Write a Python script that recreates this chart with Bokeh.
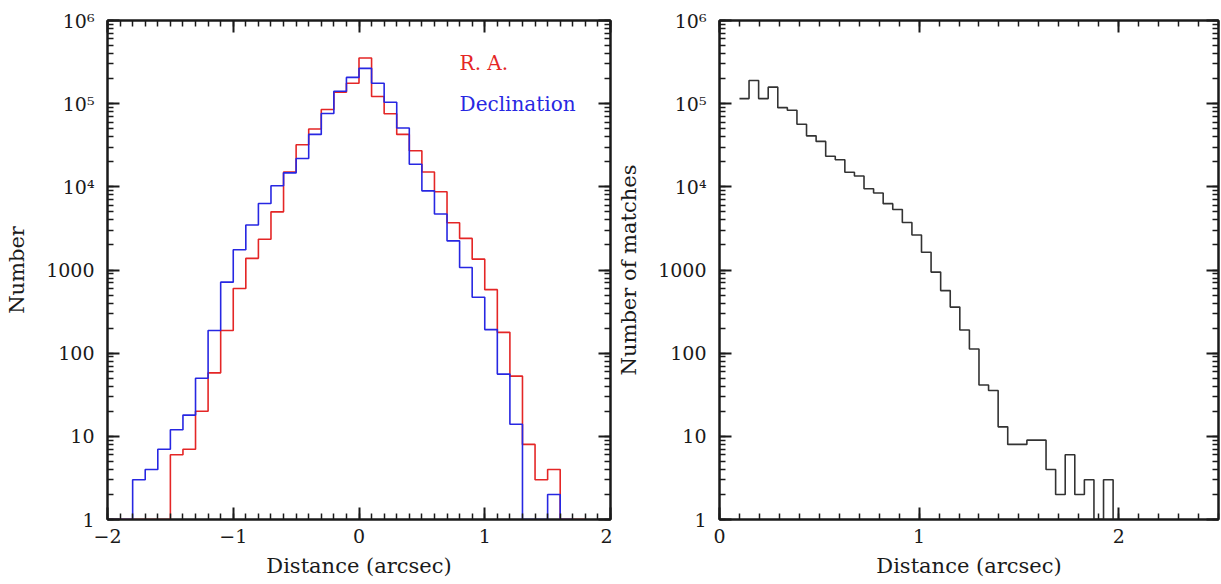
from bokeh.plotting import figure
from bokeh.layouts import row
from bokeh.models import (LinearAxis, LogAxis, SingleIntervalTicker, LogTicker,
                          CustomJSTickFormatter, Range1d)
from bokeh.core.properties import value
from bokeh.embed import file_html
from bokeh.resources import INLINE

FONT = "DejaVu Serif"
RED = "#e42626"
BLUE = "#2727e2"
INK = "#1a1a1a"

# ---------------- data: left panel (offsets, arcsec) ----------------
offset_bin_start = -2.0
offset_bin_width = 0.1
ra_counts = [1, 1, 1, 1, 1, 6, 7, 20, 58, 187, 600, 1380, 2340, 5000, 15100,
             32100, 49500, 85000, 137000, 176000, 354000, 122000, 75500, 42700,
             27200, 15100, 8710, 3700, 2400, 1350, 580, 178, 53, 8, 3, 4, 1, 1]
dec_counts = [1, 1, 3, 4, 7, 12, 18, 50, 187, 714, 1750, 3480, 6300, 10300,
              14700, 21900, 42700, 76300, 141000, 207000, 266000, 176000,
              104000, 50900, 18700, 8950, 4710, 2240, 1070, 470, 192, 56, 14,
              1, 1, 2, 1]

# ---------------- data: right panel (match distance) ----------------
match_bin_start = 0.10
match_bin_width = 0.048
match_counts = [115000, 190000, 115000, 158000, 89600, 83200, 56600, 41000,
                35200, 23300, 21200, 15000, 13500, 9490, 8440, 6280, 5330,
                3730, 2630, 1635, 944, 565, 358, 190, 112, 41.5, 35.6, 13, 8,
                8, 9, 9, 4, 2, 6, 2, 3, 1, 3]

y_label_left = "Number"
y_label_right = "Number of matches"
x_label = "Distance (arcsec)"


def edges_and_steps(start, width, counts, end_value):
    xs = [start + i * width for i in range(len(counts) + 1)]
    ys = list(counts) + [end_value]
    return xs, ys


y_fmt = CustomJSTickFormatter(code="""
const sup = {4: "\\u2074", 5: "\\u2075", 6: "\\u2076"};
const e = Math.round(Math.log10(tick));
if (e >= 4) { return "10" + sup[e]; }
return String(Math.round(tick));
""")
x_fmt = CustomJSTickFormatter(code="""
const v = Math.round(tick);
return v < 0 ? "\\u2212" + Math.abs(v) : String(v);
""")
blank_fmt = CustomJSTickFormatter(code="return '';")


def style_axis(ax, labels=True):
    ax.axis_line_color = INK
    ax.axis_line_width = 2
    ax.major_tick_line_color = INK
    ax.minor_tick_line_color = INK
    ax.major_tick_line_width = 2
    ax.minor_tick_line_width = 1.5
    ax.major_tick_in = 12
    ax.major_tick_out = 0
    ax.minor_tick_in = 6
    ax.minor_tick_out = 0
    ax.major_label_text_font = FONT
    ax.major_label_text_font_size = "19px"
    ax.major_label_text_color = INK
    ax.axis_label_text_font = FONT
    ax.axis_label_text_font_size = "21px"
    ax.axis_label_text_font_style = "normal"
    ax.axis_label_text_color = INK
    if not labels:
        ax.formatter = blank_fmt
        ax.major_label_standoff = 0


def make_panel(width, xr, border, xlabel, ylabel):
    p = figure(width=width, height=584, x_range=Range1d(*xr),
               y_range=Range1d(1, 1e6), y_axis_type="log",
               output_backend="svg", toolbar_location=None,
               min_border_left=border[0], min_border_right=border[1],
               min_border_top=border[2], min_border_bottom=border[3])
    p.xgrid.visible = False
    p.ygrid.visible = False
    p.outline_line_color = INK
    p.outline_line_width = 2
    p.background_fill_color = "white"
    p.border_fill_color = "white"

    xa = p.xaxis[0]
    xa.ticker = SingleIntervalTicker(interval=1, num_minor_ticks=10)
    xa.formatter = x_fmt
    xa.axis_label = xlabel
    style_axis(xa)
    xa.major_label_standoff = 9
    xa.axis_label_standoff = 8

    ya = p.yaxis[0]
    ya.ticker = LogTicker(num_minor_ticks=10)
    ya.formatter = y_fmt
    ya.axis_label = ylabel
    style_axis(ya)
    ya.major_label_standoff = 13
    ya.axis_label_standoff = 14

    top = LinearAxis(ticker=SingleIntervalTicker(interval=1, num_minor_ticks=10))
    style_axis(top, labels=False)
    p.add_layout(top, "above")
    right = LogAxis(ticker=LogTicker(num_minor_ticks=10))
    style_axis(right, labels=False)
    p.add_layout(right, "right")
    return p


# ---------- left panel ----------
left = make_panel(612, (-2, 2), (107, 2, 18, 65), x_label, y_label_left)
rx, ry = edges_and_steps(offset_bin_start, offset_bin_width, ra_counts, 1)
dx, dy = edges_and_steps(offset_bin_start, offset_bin_width, dec_counts, 1)
left.step(rx, ry, mode="after", line_color=RED, line_width=1.6)
left.step(dx, dy, mode="after", line_color=BLUE, line_width=1.6)
left.text(x=[0.8], y=[3.1e5], text=["R. A."], text_font=value(FONT),
          text_font_size="20px", text_color=RED, text_baseline="middle")
left.text(x=[0.8], y=[1.0e5], text=["Declination"], text_font=value(FONT),
          text_font_size="20px", text_color=BLUE, text_baseline="middle")

# ---------- right panel ----------
right_p = make_panel(609, (0, 2.5), (107, 3, 20, 61), x_label, y_label_right)
mx, my = edges_and_steps(match_bin_start, match_bin_width, match_counts, 1)
right_p.step(mx, my, mode="after", line_color="#333333", line_width=1.6)

layout = row(left, right_p, spacing=0)
open("out.html", "w").write(file_html(layout, INLINE))
